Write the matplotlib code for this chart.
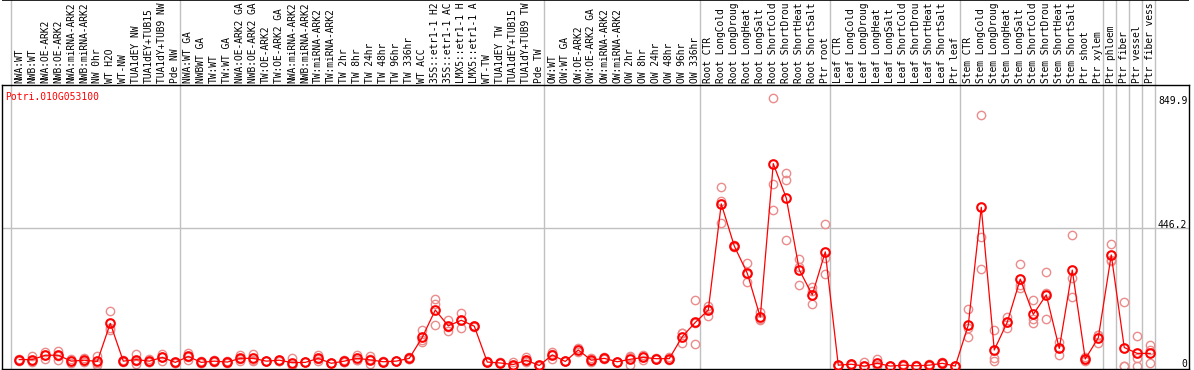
import matplotlib
matplotlib.use("Agg")
import matplotlib.pyplot as plt

gene = "Potri.010G053100"

# sample names as the chart shows them (cut to 14 characters)
labels = [
    "NWA:WT", "NWB:WT", "NWA:OE-ARK2", "NWB:OE-ARK2", "NWA:miRNA-ARK2", "NWB:miRNA-ARK2",
    "NW 0hr", "WT H2O", "WT-NW", "TUA1dEY NW", "TUA1dEY+TUB15", "TUA1dY+TUB9 NW", "Pde NW",
    "NWA:WT GA", "NWBWT GA", "TW:WT", "TW:WT GA", "NWA:OE-ARK2 GA", "NWB:OE-ARK2 GA",
    "TW:OE-ARK2", "TW:OE-ARK2 GA", "NWA:miRNA-ARK2", "NWB:miRNA-ARK2", "TW:miRNA-ARK2",
    "TW:miRNA-ARK2", "TW 2hr", "TW 8hr", "TW 24hr", "TW 48hr", "TW 96hr", "TW 336hr",
    "WT ACC", "35S::etr1-1 H2", "35S::etr1-1 AC", "LMX5::etr1-1 H", "LMX5::etr1-1 A",
    "WT-TW", "TUA1dEY TW", "TUA1dEY+TUB15", "TUA1dY+TUB9 TW", "Pde TW",
    "OW:WT", "OW:WT GA", "OW:OE-ARK2", "OW:OE-ARK2 GA", "OW:miRNA-ARK2", "OW:miRNA-ARK2",
    "OW 2hr", "OW 8hr", "OW 24hr", "OW 48hr", "OW 96hr", "OW 336hr",
    "Root CTR", "Root LongCold", "Root LongDroug", "Root LongHeat", "Root LongSalt",
    "Root ShortCold", "Root ShortDrou", "Root ShortHeat", "Root ShortSalt", "Ptr root",
    "Leaf CTR", "Leaf LongCold", "Leaf LongDroug", "Leaf LongHeat", "Leaf LongSalt",
    "Leaf ShortCold", "Leaf ShortDrou", "Leaf ShortHeat", "Leaf ShortSalt", "Ptr leaf",
    "Stem CTR", "Stem LongCold", "Stem LongDroug", "Stem LongHeat", "Stem LongSalt",
    "Stem ShortCold", "Stem ShortDrou", "Stem ShortHeat", "Stem ShortSalt",
    "Ptr shoot", "Ptr xylem", "Ptr phloem", "Ptr fiber", "Ptr vessel", "Ptr fiber vess",
]

# first sample index of each group (for the grey separators)
group_starts = [0, 13, 41, 53, 63, 73, 84, 85, 86, 87, 88]

means = [
    21, 21, 35, 35, 16, 19, 15, 138, 16, 21, 16, 28, 12,
    31, 12, 16, 13, 25, 25, 16, 19, 11, 12, 25, 9, 16, 25, 20, 14, 16, 25,
    93, 181, 130, 148, 129, 13, 10, 5, 19, 2,
    36, 15, 52, 19, 25, 14, 22, 28, 24, 24, 95, 141,
    181, 524, 388, 300, 158, 654, 543, 311, 230, 369,
    3, 6, 0, 9, 0, 3, 1, 3, 9, 0,
    132, 513, 52, 142, 281, 167, 230, 57, 310, 23, 91,
    359, 60, 41, 41,
]

reps = [
    [18, 21, 24], [32, 18, 14], [46, 35, 24], [50, 33, 21], [16, 10, 22], [27, 16, 14],
    [32, 9, 4], [177, 122, 115], [20, 12, 16], [39, 18, 6], [24, 12, 12], [39, 28, 17],
    [14, 11, 11],
    [43, 29, 21], [15, 10, 11], [19, 15, 14], [17, 10, 12], [35, 24, 16], [39, 20, 16],
    [18, 15, 15], [21, 18, 18], [25, 5, 3], [12, 12, 12], [36, 22, 17], [9, 9, 9],
    [20, 14, 14], [36, 20, 19], [32, 22, 6], [15, 14, 13], [17, 16, 15], [29, 24, 22],
    [116, 85, 78], [216, 201, 133], [149, 127, 114], [173, 148, 122], [131, 129, 127],
    [15, 13, 12], [12, 10, 9], [12, 3, 0], [28, 15, 14], [5, 1, 0],
    [46, 39, 23], [15, 15, 15], [57, 53, 46], [25, 18, 14], [28, 25, 22], [14, 14, 14],
    [33, 30, 3], [37, 28, 19], [26, 24, 22], [28, 24, 20], [106, 106, 73], [214, 140, 70],
    [195, 186, 162], [578, 532, 462], [392, 388, 384], [332, 297, 271], [174, 152, 149],
    [866, 589, 505], [624, 602, 408], [346, 319, 262], [255, 241, 201], [460, 349, 297],
    [5, 3, 1], [7, 6, 5], [14, 1, 0], [22, 5, 0], [1, 0, 0],
    [8, 3, 0], [3, 1, 0], [6, 3, 0], [12, 9, 6], [1, 0, 0],
    [183, 122, 93], [812, 416, 313], [117, 25, 17], [157, 142, 122], [330, 262, 251],
    [214, 151, 140], [303, 237, 152], [79, 57, 36], [424, 286, 222], [30, 23, 17],
    [100, 100, 73],
    [395, 343, 338], [206, 0, 0], [97, 26, 0], [68, 52, 9],
]

y_ticks = [0, 446.2, 849.9]

W, H = 1194, 370
fig = plt.figure(figsize=(W / 100, H / 100), dpi=100)

def frac(x0, y0, x1, y1):
    return [x0 / W, 1 - y1 / H, (x1 - x0) / W, (y1 - y0) / H]

xlim = (-1.33, 89.98)
grey = "#c0c0c0"
mono = "DejaVu Sans Mono"

# header with sample names
axh = fig.add_axes(frac(2, 0, 1189, 85))
axh.set_xlim(*xlim)
axh.set_ylim(0, 1)
axh.axis("off")
for k in group_starts:
    axh.axvline(k - 0.6, color=grey, lw=1)
axh.axhline(1, color="black", lw=1.2)
for i, lab in enumerate(labels):
    axh.text(i, 0.025, lab, rotation=90, ha="center", va="bottom",
             family=mono, fontsize=6.9)

# main chart
ax = fig.add_axes(frac(2, 85, 1189, 369))
ax.set_xlim(*xlim)
ax.set_ylim(-9.4, 908)
for s in ax.spines.values():
    s.set_linewidth(1)
ax.set_xticks([])
ax.set_yticks([])
for k in group_starts:
    ax.axvline(k - 0.6, color=grey, lw=1, zorder=0)
ax.axhline(y_ticks[1], color=grey, lw=1, zorder=0)

xs = list(range(len(means)))
for i, r in enumerate(reps):
    ax.plot([i] * len(r), r, "o", ms=6, mfc="none", mec="#eb8c8c", mew=1, zorder=2)
ax.plot(xs, means, "-", color="red", lw=0.9, zorder=3)
ax.plot(xs, means, "o", ms=6.2, mfc="none", mec="red", mew=1.5, zorder=4)

ax.text(-1.1, 870, gene, color="red", family=mono, fontsize=7, va="center")
for v in y_ticks:
    ax.text(89.85, v + 8, f"{v:g}", ha="right", va="center", family=mono, fontsize=7)

fig.savefig("out.png", dpi=100)
